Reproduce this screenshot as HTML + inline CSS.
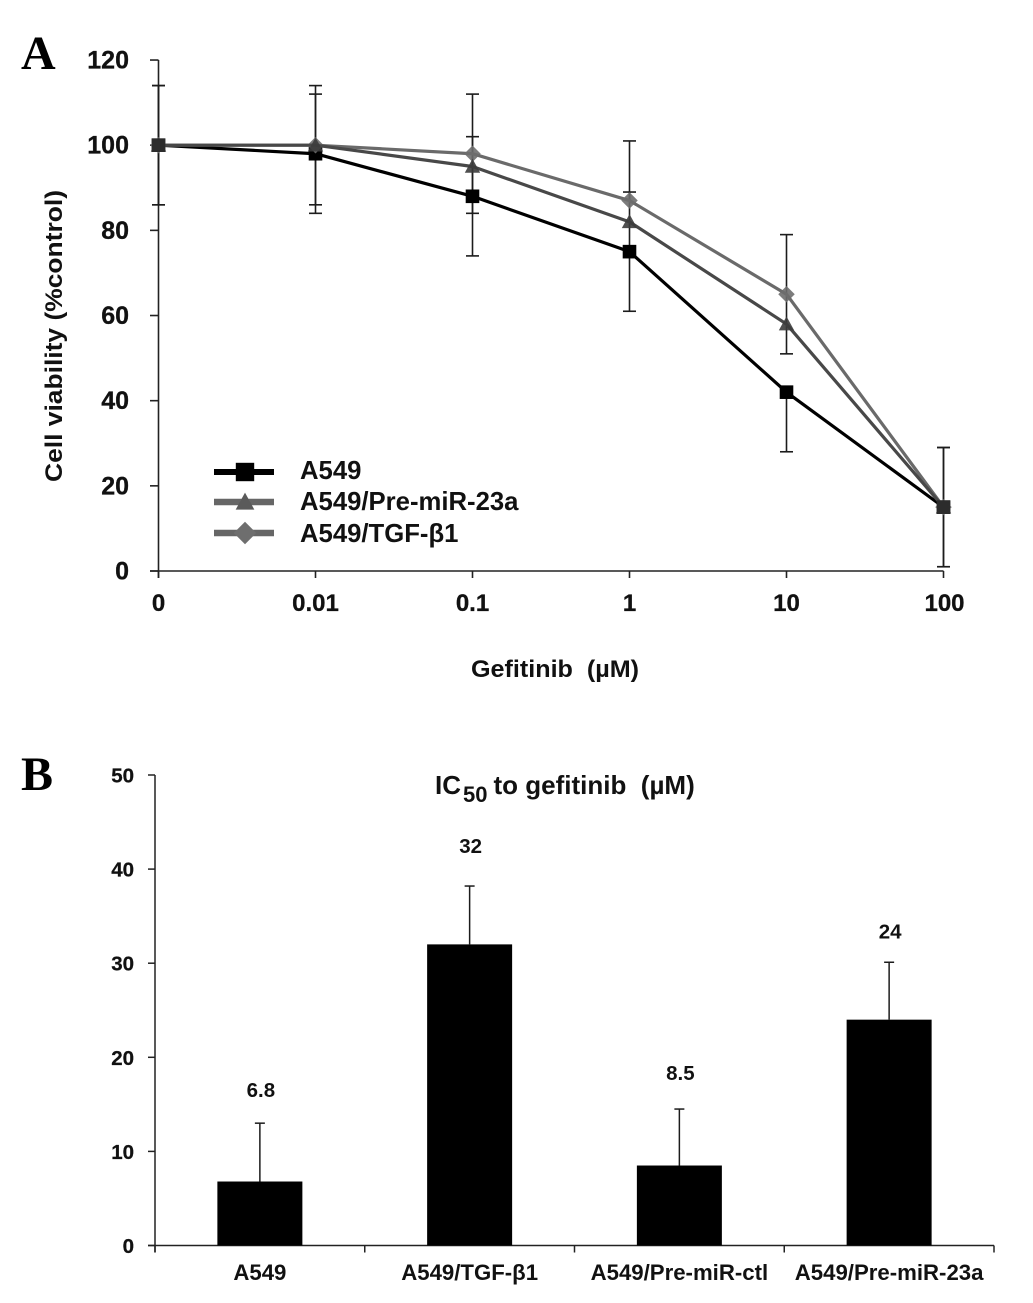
<!DOCTYPE html>
<html lang="en">
<head>
<meta charset="utf-8">
<title>Gefitinib sensitivity charts</title>
<style>
html,body{margin:0;padding:0;background:#fff;}
svg{display:block;filter:blur(0.35px);}
text{font-family:"Liberation Sans",sans-serif;font-weight:bold;fill:#111;}
.panel{font-family:"Liberation Serif",serif;fill:#000;}
</style>
</head>
<body>
<svg id="figure" width="1033" height="1303" viewBox="0 0 1033 1303" xmlns="http://www.w3.org/2000/svg">
  <text class="panel" x="21" y="69" font-size="48">A</text>
  <text class="panel" x="21" y="790" font-size="48">B</text>
  <text transform="translate(62,336) rotate(-90)" text-anchor="middle" font-size="24" textLength="292" lengthAdjust="spacingAndGlyphs">Cell viability  (%control)</text>
  <text x="555" y="677" text-anchor="middle" font-size="24.5" xml:space="preserve" textLength="168" lengthAdjust="spacingAndGlyphs">Gefitinib  (µM)</text>
  <text x="435" y="794" font-size="26" xml:space="preserve">IC<tspan font-size="22" dx="2" dy="8">50</tspan><tspan dx="6" dy="-8">to gefitinib  (µM)</tspan></text>
  <g id="chartA"></g>
  <g id="chartB"></g>
</svg>
<script>
// Panel A data
const doses = ['0', '0.01', '0.1', '1', '10', '100'];
const viabilityTicks = [0, 20, 40, 60, 80, 100, 120];
const a549Values = [100, 98, 88, 75, 42, 15];
const preMirValues = [100, 100, 95, 82, 58, 15];
const tgfValues = [100, 100, 98, 87, 65, 15];
const a549ErrUp = [14, 14, 14, 14, 0, 14];
const a549ErrDown = [14, 14, 14, 14, 14, 14];
const tgfErrUp = [14, 14, 14, 14, 14, 14];
const tgfErrDown = [14, 14, 14, 0, 14, 14];
const legendLabels = ['A549', 'A549/Pre-miR-23a', 'A549/TGF-β1'];

// Panel B data
const cellLines = ['A549', 'A549/TGF-β1', 'A549/Pre-miR-ctl', 'A549/Pre-miR-23a'];
const ic50Values = [6.8, 32, 8.5, 24];
const ic50Labels = ['6.8', '32', '8.5', '24'];
const ic50Errors = [6.2, 6.2, 6.0, 6.1];
const ic50Ticks = [0, 10, 20, 30, 40, 50];

const NS = 'http://www.w3.org/2000/svg';
function make(parent, tag, attrs, content) {
  const el = document.createElementNS(NS, tag);
  for (const k in attrs) el.setAttribute(k, attrs[k]);
  if (content !== undefined) el.textContent = content;
  parent.appendChild(el);
  return el;
}

// Axis functions, panel A
const xA = i => 158.5 + i * 157;
const yA = v => 571 - v * 4.258;
// Axis functions, panel B
const bandB = 209.75;
const xB = i => 155 + (i + 0.5) * bandB;
const yB = v => 1245.5 - v * 9.41;

const chartA = document.getElementById('chartA');
const chartB = document.getElementById('chartB');

function drawMarker(parent, kind, cx, cy, color, size) {
  let m;
  if (kind === 'square') {
    m = make(parent, 'rect', {x: cx - size, y: cy - size, width: size * 2, height: size * 2, fill: color});
  } else if (kind === 'triangle') {
    m = make(parent, 'polygon', {points: `${cx},${cy - size * 1.1} ${cx + size * 1.1},${cy + size * 0.9} ${cx - size * 1.1},${cy + size * 0.9}`, fill: color});
  } else {
    m = make(parent, 'polygon', {points: `${cx},${cy - size * 1.25} ${cx + size * 1.25},${cy} ${cx},${cy + size * 1.25} ${cx - size * 1.25},${cy}`, fill: color});
  }
  return m;
}

// Panel A axes
const axisA = make(chartA, 'g', {stroke: '#222', 'stroke-width': 1.6, fill: 'none'});


make(axisA, 'line', {x1: xA(0), y1: yA(120), x2: xA(0), y2: yA(0) + 7});
make(axisA, 'line', {x1: 150, y1: yA(0), x2: xA(5), y2: yA(0)});
viabilityTicks.forEach(t => {
  make(axisA, 'line', {x1: 150, y1: yA(t), x2: xA(0), y2: yA(t)});
  const lab = make(chartA, 'text', {x: 129, y: yA(t) + 8.5, 'text-anchor': 'end', 'font-size': 25, stroke: '#111', 'stroke-width': 0.3}, String(t));
  
  
});
doses.forEach((d, i) => {
  make(axisA, 'line', {x1: xA(i), y1: yA(0), x2: xA(i), y2: yA(0) + 7});
  const lab = make(chartA, 'text', {x: xA(i) + (i === 5 ? 1 : 0), y: 611, 'text-anchor': 'middle', 'font-size': 24, stroke: '#111', 'stroke-width': 0.3}, d);
  
  
});

// Panel A error bars
function drawErrors(values, up, down, name) {
  const g = make(chartA, 'g', {stroke: '#1c1c1c', 'stroke-width': 1.6, fill: 'none'});
  
  
  values.forEach((v, i) => {
    const x = xA(i);
    make(g, 'line', {x1: x, y1: yA(v + up[i]), x2: x, y2: yA(v - down[i])});
    if (up[i]) make(g, 'line', {x1: x - 6.5, y1: yA(v + up[i]), x2: x + 6.5, y2: yA(v + up[i])});
    if (down[i]) make(g, 'line', {x1: x - 6.5, y1: yA(v - down[i]), x2: x + 6.5, y2: yA(v - down[i])});
  });
}
drawErrors(a549Values, a549ErrUp, a549ErrDown, 'error-bars-a549');
drawErrors(tgfValues, tgfErrUp, tgfErrDown, 'error-bars-tgf');

// Panel A series, painted so the overlaps at 0 and 100 stay dark
function drawSeries(values, name, lineColor, markerColor, kind, size, markerOpacity) {
  const g = make(chartA, 'g', {});
  
  
  make(g, 'polyline', {
    points: values.map((v, i) => xA(i) + ',' + yA(v)).join(' '),
    fill: 'none', stroke: lineColor, 'stroke-width': 3.2, 'stroke-linejoin': 'round'
  });
  values.forEach((v, i) => {
    const m = drawMarker(g, kind, xA(i), yA(v), markerColor, size);
    m.setAttribute('opacity', markerOpacity);
    
    
  });
}
drawSeries(a549Values, 'series-a549', '#000', '#000', 'square', 6.8, 1);
drawSeries(tgfValues, 'series-tgf', '#6a6a6a', '#6e6e6e', 'diamond', 6.6, 0.9);
drawSeries(preMirValues, 'series-pre-mir-23a', '#484848', '#3c3c3c', 'triangle', 7, 0.9);
// Darkened overlap squares where all three series coincide
[0, 5].forEach(i => {
  const m = drawMarker(chartA, 'square', xA(i), yA(a549Values[i]), '#2c2c2c', 6.8);
  
  
});

// Legend
const legendStyles = [
  {y: 472, base: 479, color: '#000', marker: '#000', kind: 'square', size: 9.2, width: 6},
  {y: 502, base: 510, color: '#666', marker: '#5a5a5a', kind: 'triangle', size: 8.5, width: 6.5},
  {y: 533, base: 542, color: '#666', marker: '#6e6e6e', kind: 'diamond', size: 9, width: 6.5}
];
legendLabels.forEach((label, i) => {
  const s = legendStyles[i];
  const g = make(chartA, 'g', {});
  
  
  make(g, 'line', {x1: 214, y1: s.y, x2: 274, y2: s.y, stroke: s.color, 'stroke-width': s.width});
  drawMarker(g, s.kind, 245, s.y, s.marker, s.size);
  make(g, 'text', {x: 300, y: s.base, 'font-size': 25.7}, label);
});

// Panel B axes
const axisB = make(chartB, 'g', {stroke: '#222', 'stroke-width': 1.5, fill: 'none'});


make(axisB, 'line', {x1: 155, y1: yB(50), x2: 155, y2: yB(0) + 7});
make(axisB, 'line', {x1: 148, y1: yB(0), x2: 155 + 4 * bandB, y2: yB(0)});
ic50Ticks.forEach(t => {
  make(axisB, 'line', {x1: 148, y1: yB(t), x2: 155, y2: yB(t)});
  const lab = make(chartB, 'text', {x: 134, y: yB(t) + 7.5, 'text-anchor': 'end', 'font-size': 20.5, stroke: '#111', 'stroke-width': 0.25}, String(t));
  
  
});
for (let i = 0; i <= cellLines.length; i++) {
  const x = 155 + i * bandB;
  make(axisB, 'line', {x1: x, y1: yB(0), x2: x, y2: yB(0) + 7});
}

// Small per-label layout nudges for the printed values, in pixels
const labelNudge = [1, -6, -2, 3];
ic50Values.forEach((v, i) => {
  const cx = xB(i);
  const err = make(chartB, 'g', {stroke: '#1c1c1c', 'stroke-width': 1.5});
  
  
  make(err, 'line', {x1: cx, y1: yB(v), x2: cx, y2: yB(v + ic50Errors[i])});
  make(err, 'line', {x1: cx - 5, y1: yB(v + ic50Errors[i]), x2: cx + 5, y2: yB(v + ic50Errors[i])});

  const bar = make(chartB, 'rect', {x: cx - 42.5, y: yB(v), width: 85, height: yB(0) - yB(v), fill: '#000'});
  
  

  const val = make(chartB, 'text', {x: cx + 1, y: yB(v + ic50Errors[i]) - 27 + labelNudge[i], 'text-anchor': 'middle', 'font-size': 20.5}, ic50Labels[i]);
  
  

  const cat = make(chartB, 'text', {x: cx, y: 1280, 'text-anchor': 'middle', 'font-size': 22.2}, cellLines[i]);
  
  
});
</script>
</body>
</html>
